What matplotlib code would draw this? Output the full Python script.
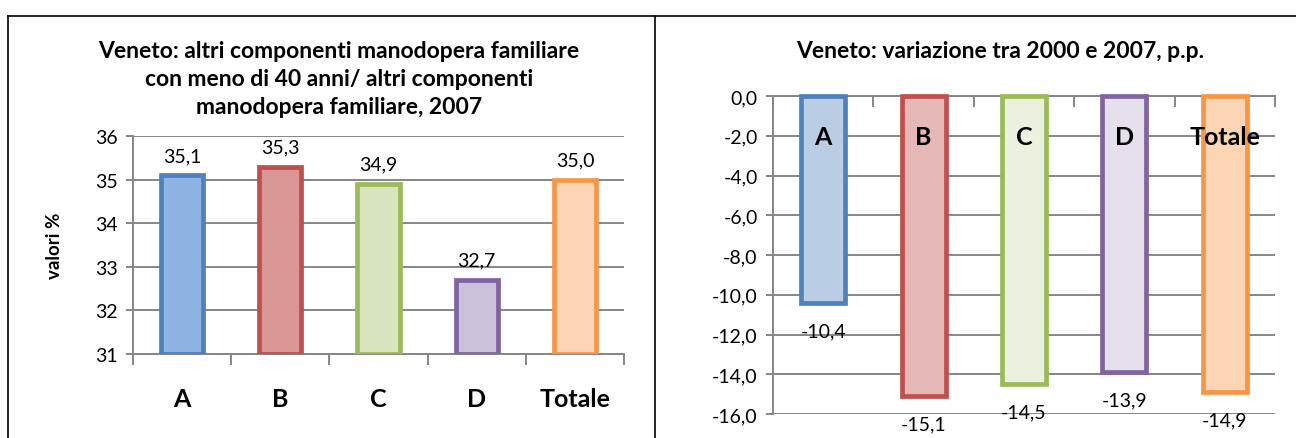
import matplotlib
matplotlib.use("Agg")
import matplotlib.pyplot as plt
from matplotlib.lines import Line2D
from matplotlib.transforms import blended_transform_factory
import numpy as np

plt.rcParams['font.family'] = ['Lato', 'DejaVu Sans']

categories = ["A", "B", "C", "D", "Totale"]
share_2007 = [35.1, 35.3, 34.9, 32.7, 35.0]
change_2000_2007 = [-10.4, -15.1, -14.5, -13.9, -14.9]

edge_colors = ["#4F81BD", "#C0504D", "#9BBB59", "#8064A2", "#F79646"]
fill_left = ["#8EB4E3", "#D99694", "#D7E4BD", "#CCC1DA", "#FCD5B5"]
fill_right = ["#B9CDE5", "#E6B9B8", "#EBF1DE", "#E6E0EC", "#FCD5B5"]

title_left_lines = ["Veneto: altri componenti manodopera familiare",
                    "con meno di 40 anni/ altri componenti",
                    "manodopera familiare, 2007"]
title_right = "Veneto: variazione tra 2000 e 2007, p.p."

W, H = 1296, 439
fig = plt.figure(figsize=(W / 100, H / 100), dpi=100)

def fx(px):
    return px / W

def fy(py):
    return 1 - py / H

grid_c = "#868686"
def fmt(v):
    return f"{v:.1f}".replace(".", ",")

TICK_FS = 14
CAT_FS = 18
VAL_FS = 14
TITLE_FS = 16.5

# ---------- Left chart ----------
axL = fig.add_axes([fx(133), fy(355), fx(624 - 133), (355 - 137) / H])
x = np.arange(len(categories))
base = 31
axL.bar(x, np.array(share_2007) - base, bottom=base, width=0.43,
        color=fill_left, edgecolor=edge_colors, linewidth=3.4, zorder=3)
axL.set_xlim(-0.5, 4.5)
axL.set_ylim(31, 36)
axL.set_yticks(range(31, 37))
axL.yaxis.grid(True, color=grid_c, linewidth=1.4, zorder=0)
axL.set_axisbelow(True)
for s in ["top", "right"]:
    axL.spines[s].set_visible(False)
for s in ["left", "bottom"]:
    axL.spines[s].set_color(grid_c)
    axL.spines[s].set_linewidth(1.4)
axL.set_xticks(x)
axL.set_xticklabels(categories, fontsize=CAT_FS, fontweight="bold")
axL.tick_params(axis="x", which="major", length=0, pad=24)
axL.set_xticks(np.arange(-0.5, 5, 1), minor=True)
axL.tick_params(axis="x", which="minor", length=8, width=1.4, color=grid_c, direction="out")
axL.tick_params(axis="y", length=5, width=1.4, color=grid_c, labelsize=TICK_FS, pad=6)
for xi, v in zip(x, share_2007):
    axL.annotate(fmt(v), (xi, v), xytext=(0, 8), textcoords="offset points",
                 ha="center", va="bottom", fontsize=VAL_FS)
fig.text(fx(55), fy(246), "valori %", rotation=90, ha="center", va="center",
         fontsize=13.5, fontweight="bold")
for i, line_txt in enumerate(title_left_lines):
    fig.text(fx(339), fy(52 + 28 * i), line_txt, ha="center", va="center",
             fontsize=TITLE_FS, fontweight="bold")

# ---------- Right chart ----------
axR = fig.add_axes([fx(773), fy(415), fx(1275 - 773), (415 - 97) / H])
axR.bar(x, change_2000_2007, width=0.44, color=fill_right, edgecolor=edge_colors,
        linewidth=3.4, zorder=3, clip_on=False)
axR.set_xlim(-0.5, 4.5)
axR.set_ylim(-16, 0)
axR.set_yticks(np.arange(-16, 1, 2))
axR.set_yticklabels([fmt(v) for v in np.arange(-16, 1, 2)])
axR.yaxis.grid(True, color=grid_c, linewidth=1.4, zorder=0)
axR.set_axisbelow(True)
for s in ["right", "bottom"]:
    axR.spines[s].set_visible(False)
for s in ["left", "top"]:
    axR.spines[s].set_color(grid_c)
    axR.spines[s].set_linewidth(1.4)
axR.xaxis.tick_top()
axR.set_xticks([])
axR.set_xticks(np.arange(-0.5, 5, 1), minor=True)
axR.tick_params(axis="x", which="minor", top=True, bottom=False, length=8, width=1.4,
                color=grid_c, direction="in")
axR.tick_params(axis="y", length=5, width=1.4, color=grid_c, labelsize=TICK_FS, pad=6)
tr = blended_transform_factory(axR.transData, axR.transAxes)
for xi, c in zip(x, categories):
    axR.text(xi, 1 - (138 - 97) / 318, c, transform=tr, ha="center", va="center",
             fontsize=CAT_FS, fontweight="bold", zorder=5)
for xi, v in zip(x, change_2000_2007):
    axR.annotate(fmt(v), (xi, v), xytext=(0, -20), textcoords="offset points",
                 ha="center", va="center", fontsize=VAL_FS, annotation_clip=False)
fig.text(fx(1000), fy(52), title_right, ha="center", va="center", fontsize=TITLE_FS,
         fontweight="bold")

# ---------- Frame lines ----------
for line in [
    Line2D([fx(8), 1], [fy(17), fy(17)]),
    Line2D([fx(8), fx(8)], [fy(17), 0]),
    Line2D([fx(655), fx(655)], [fy(17), 0]),
]:
    line.set_color("black")
    line.set_linewidth(1.2)
    line.set_transform(fig.transFigure)
    fig.add_artist(line)

fig.savefig("out.png", dpi=100)
